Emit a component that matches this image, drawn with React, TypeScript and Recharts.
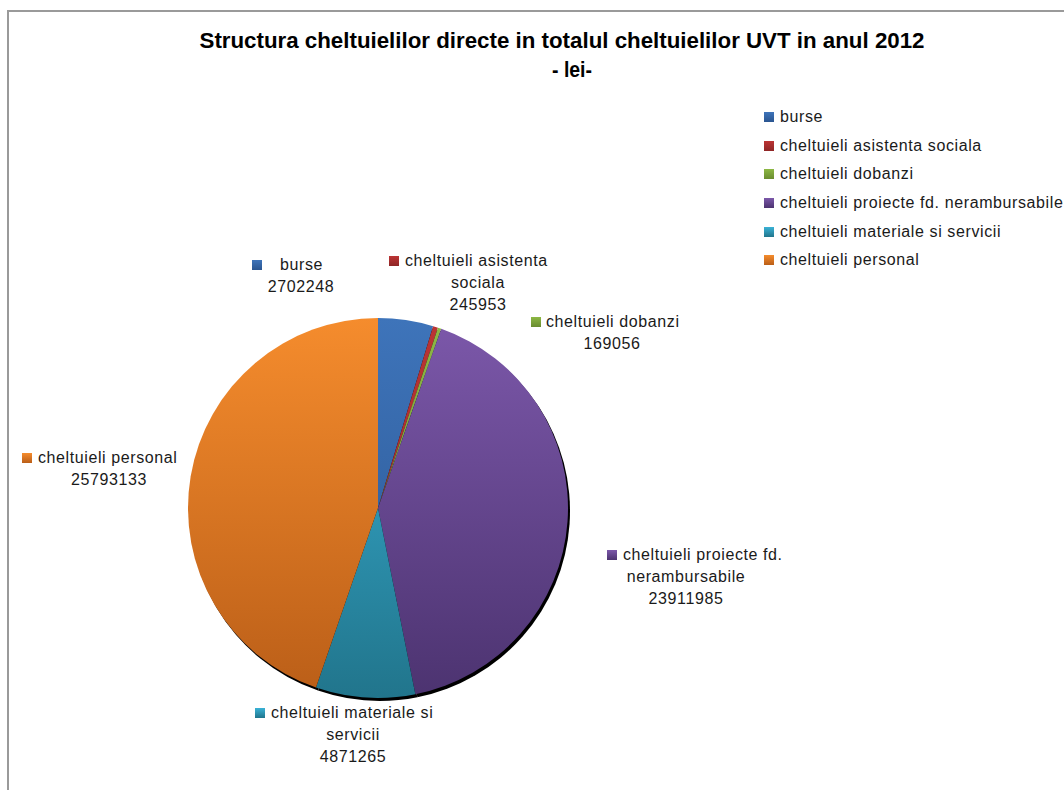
import React from 'react';
import { PieChart, Pie, Cell, Legend, Customized } from 'recharts';

const CATEGORIES = [
  'burse',
  'cheltuieli asistenta sociala',
  'cheltuieli dobanzi',
  'cheltuieli proiecte fd. nerambursabile',
  'cheltuieli materiale si servicii',
  'cheltuieli personal',
];
const VALUES = [2702248, 245953, 169056, 23911985, 4871265, 25793133];
const LABEL_NAME_LINES = [
  ['burse'],
  ['cheltuieli asistenta', 'sociala'],
  ['cheltuieli dobanzi'],
  ['cheltuieli proiecte fd.', 'nerambursabile'],
  ['cheltuieli materiale si', 'servicii'],
  ['cheltuieli personal'],
];
const COLORS_TOP = ['#3E74BA', '#BC3434', '#8DB844', '#7C58AA', '#3AB2D6', '#F58C2D'];
const COLORS_BOTTOM = ['#2A5590', '#8E2626', '#6A8C30', '#4C3370', '#21758C', '#BA5E18'];
const TITLE_LINES = ['Structura cheltuielilor directe in totalul cheltuielilor UVT in anul 2012', '- lei-'];

const data = CATEGORIES.map((name, i) => ({ name, value: VALUES[i] }));

const W = 1064;
const H = 790;
const CX = 378;
const CY = 508;
const R = 190;
const SHADOW_DX = 2;
const SHADOW_DY = 3;
const FONT = '"Liberation Sans", Arial, sans-serif';
const TEXT_COLOR = '#1a1a1a';
const LINE_H = 22;

// label text layout (key square x, first-line start x, centred-lines x, first baseline y)
const LABEL_LAYOUT = [
  { keyX: 252, startX: 280, centerX: 301, y: 270 },
  { keyX: 389, startX: 405, centerX: 478, y: 266 },
  { keyX: 531, startX: 546, centerX: 612, y: 327 },
  { keyX: 607, startX: 623, centerX: 686, y: 560 },
  { keyX: 255, startX: 271, centerX: 353, y: 718 },
  { keyX: 22, startX: 38, centerX: 109, y: 463 },
];

const renderLabel = (props: any) => {
  const i = props.index;
  const L = LABEL_LAYOUT[i];
  const lines = [...LABEL_NAME_LINES[i].slice(1), String(VALUES[i])];
  const textStyle = { fontFamily: FONT, fontSize: 16, letterSpacing: 0.6 } as any;
  return (
    <g key={`lbl-${i}`}>
      <rect x={L.keyX} y={L.y - 10} width={10} height={10} fill={`url(#grad-${i})`} />
      <text x={L.startX} y={L.y} textAnchor="start" fill={TEXT_COLOR} style={textStyle}>
        {LABEL_NAME_LINES[i][0]}
      </text>
      {lines.map((t, k) => (
        <text
          key={k}
          x={L.centerX}
          y={L.y + LINE_H * (k + 1)}
          textAnchor="middle"
          fill={TEXT_COLOR}
          style={textStyle}
        >
          {t}
        </text>
      ))}
    </g>
  );
};

const LegendContent = () => (
  <div>
    {CATEGORIES.map((c, i) => (
      <div key={c} style={{ display: 'flex', alignItems: 'center', height: 28.6, whiteSpace: 'nowrap' }}>
        <span
          style={{
            width: 10,
            height: 10,
            background: `linear-gradient(${COLORS_TOP[i]}, ${COLORS_BOTTOM[i]})`,
            marginRight: 6,
            flex: 'none',
          }}
        />
        <span style={{ fontFamily: FONT, fontSize: 16, letterSpacing: 0.6, color: TEXT_COLOR }}>{c}</span>
      </div>
    ))}
  </div>
);

const Decor = () => (
  <g>
    <defs>
      {CATEGORIES.map((_, i) => (
        <linearGradient key={i} id={`pie-grad-${i}`} gradientUnits="userSpaceOnUse" x1={0} y1={CY - R} x2={0} y2={CY + R}>
          <stop offset="0%" stopColor={COLORS_TOP[i]} />
          <stop offset="100%" stopColor={COLORS_BOTTOM[i]} />
        </linearGradient>
      ))}
      {CATEGORIES.map((_, i) => (
        <linearGradient key={`g${i}`} id={`grad-${i}`} x1="0" y1="0" x2="0" y2="1">
          <stop offset="0%" stopColor={COLORS_TOP[i]} />
          <stop offset="100%" stopColor={COLORS_BOTTOM[i]} />
        </linearGradient>
      ))}
    </defs>
    <rect x={8} y={11} width={1200} height={900} fill="none" stroke="#9a9a9a" strokeWidth={2} />
    <text
      x={562}
      y={48}
      textAnchor="middle"
      textLength={725}
      lengthAdjust="spacingAndGlyphs"
      fill="#000"
      style={{ fontFamily: FONT, fontSize: 22, fontWeight: 'bold' }}
    >
      {TITLE_LINES[0]}
    </text>
    <text
      x={572}
      y={77}
      textAnchor="middle"
      textLength={40}
      lengthAdjust="spacingAndGlyphs"
      fill="#000"
      style={{ fontFamily: FONT, fontSize: 22, fontWeight: 'bold' }}
    >
      {TITLE_LINES[1]}
    </text>
  </g>
);

export default function App() {
  return (
    <div style={{ position: 'absolute', left: 0, top: 0, width: W, height: H, overflow: 'hidden', background: '#fff' }}>
      <PieChart width={W} height={H} margin={{ top: 0, right: 0, bottom: 0, left: 0 }}>
        <Customized component={Decor} />
        <Pie
          data={data}
          dataKey="value"
          nameKey="name"
          cx={CX + SHADOW_DX}
          cy={CY + SHADOW_DY}
          outerRadius={R}
          startAngle={90}
          endAngle={-270}
          stroke="none"
          fill="#000"
          legendType="none"
          isAnimationActive={false}
          label={false}
          labelLine={false}
        >
          {data.map((d) => (
            <Cell key={d.name} fill="#000" />
          ))}
        </Pie>
        <Pie
          data={data}
          dataKey="value"
          nameKey="name"
          cx={CX}
          cy={CY}
          outerRadius={R}
          startAngle={90}
          endAngle={-270}
          stroke="none"
          isAnimationActive={false}
          label={renderLabel}
          labelLine={false}
        >
          {data.map((d, i) => (
            <Cell key={d.name} fill={`url(#pie-grad-${i})`} />
          ))}
        </Pie>
        <Legend
          content={<LegendContent />}
          wrapperStyle={{ position: 'absolute', left: 764, top: 103, width: 300, margin: 0 }}
        />
      </PieChart>
    </div>
  );
}
